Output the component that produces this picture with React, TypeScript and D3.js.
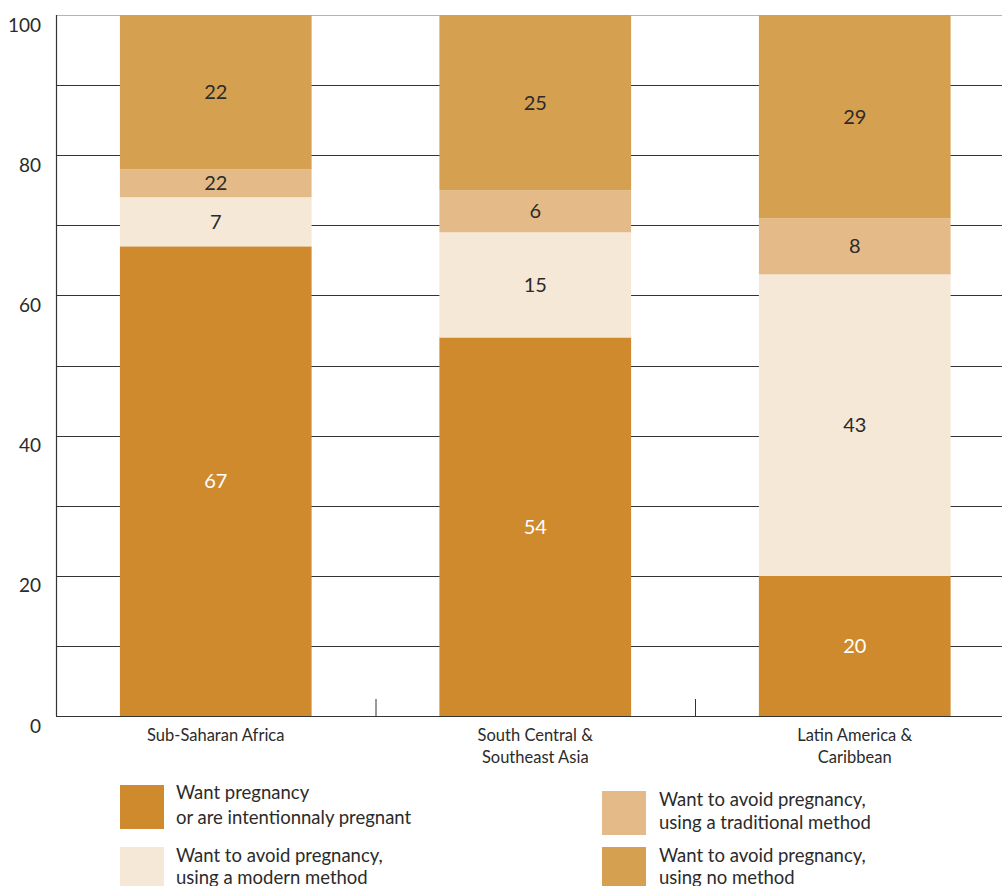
import React from "react";
import * as d3 from "d3";

const categories = [
  ["Sub-Saharan Africa"],
  ["South Central &", "Southeast Asia"],
  ["Latin America &", "Caribbean"],
];
const seriesNames = ["want", "modern", "traditional", "none"];
const wantPregnancy = [67, 54, 20];
const modernMethod = [7, 15, 43];
const traditionalMethod = [4, 6, 8];
const noMethod = [22, 25, 29];
const shownLabels = [
  ["67", "7", "22", "22"],
  ["54", "15", "6", "25"],
  ["20", "43", "8", "29"],
];
const yTicks = [0, 20, 40, 60, 80, 100];
const gridTicks = [10, 20, 30, 40, 50, 60, 70, 80, 90, 100];
const legendItems = [
  { key: "want", lines: ["Want pregnancy", "or are intentionnaly pregnant"] },
  { key: "modern", lines: ["Want to avoid pregnancy,", "using a modern method"] },
  { key: "traditional", lines: ["Want to avoid pregnancy,", "using a traditional method"] },
  { key: "none", lines: ["Want to avoid pregnancy,", "using no method"] },
];

const colors: Record<string, string> = {
  want: "#CF8A2E",
  modern: "#F5E8D7",
  traditional: "#E4BB88",
  none: "#D5A050",
};

const W = 1002;
const H = 886;
const left = 56;
const top = 15;
const bottom = 716;
const bandW = 319.5;
const FONT = "Lato, 'Open Sans', sans-serif";
const TXT = "#2b2b2b";

export default function App() {
  const y = d3.scaleLinear().domain([0, 100]).range([bottom, top]);
  const x = d3
    .scaleBand<number>()
    .domain([0, 1, 2])
    .range([left, left + 3 * bandW])
    .paddingInner(0.4)
    .paddingOuter(0.2);

  const rows = categories.map((_, i) => ({
    want: wantPregnancy[i],
    modern: modernMethod[i],
    traditional: traditionalMethod[i],
    none: noMethod[i],
  }));
  const stacked = d3.stack<any>().keys(seriesNames)(rows);

  const legendPos = [
    { sx: 120, sy: 785, tx: 176, ty: [793, 818] },
    { sx: 120, sy: 847, tx: 176, ty: [856, 878] },
    { sx: 602, sy: 791, tx: 659, ty: [800, 823] },
    { sx: 602, sy: 847, tx: 659, ty: [856, 878] },
  ];

  return (
    <svg
      width={W}
      height={H}
      style={{ position: "absolute", left: 0, top: 0, background: "#fff" }}
      fontFamily={FONT}
    >
      {gridTicks.map((t) => (
        <line
          key={t}
          x1={left}
          x2={W}
          y1={Math.round(y(t)) + 0.5}
          y2={Math.round(y(t)) + 0.5}
          stroke={t === 100 ? "#b5b5b5" : "#333"}
          strokeWidth={1}
        />
      ))}
      {stacked.map((layer) =>
        layer.map((d, i) => (
          <rect
            key={layer.key + i}
            x={x(i)}
            width={x.bandwidth()}
            y={y(d[1])}
            height={y(d[0]) - y(d[1])}
            fill={colors[layer.key]}
          />
        ))
      )}
      {stacked.map((layer, li) =>
        layer.map((d, i) => (
          <text
            key={"l" + layer.key + i}
            x={(x(i) as number) + x.bandwidth() / 2}
            y={(y(d[0]) + y(d[1])) / 2}
            dy="0.35em"
            textAnchor="middle"
            fontSize={20}
            fill={layer.key === "want" ? "#fff" : TXT}
          >
            {shownLabels[i][li]}
          </text>
        ))
      )}
      <line x1={left + 0.5} x2={left + 0.5} y1={top} y2={bottom} stroke="#333" strokeWidth={1.2} />
      <line x1={left} x2={W} y1={bottom + 0.5} y2={bottom + 0.5} stroke="#333" strokeWidth={1.2} />
      {[0, 1, 2].map((i) => (
        <line
          key={"tk" + i}
          x1={left + i * bandW + 0.5}
          x2={left + i * bandW + 0.5}
          y1={bottom - 17}
          y2={bottom}
          stroke="#333"
          strokeWidth={1}
        />
      ))}
      {yTicks.map((t) => (
        <text
          key={"yt" + t}
          x={41}
          y={y(t) + 10}
          dy="0.35em"
          textAnchor="end"
          fontSize={19}
          fill={TXT}
        >
          {t}
        </text>
      ))}
      {categories.map((lines, i) =>
        lines.map((ln, k) => (
          <text
            key={"c" + i + k}
            x={(x(i) as number) + x.bandwidth() / 2}
            y={735 + k * 22}
            dy="0.35em"
            textAnchor="middle"
            fontSize={16.5}
            fill={TXT}
          >
            {ln}
          </text>
        ))
      )}
      {legendItems.map((it, i) => {
        const p = legendPos[i];
        return (
          <g key={it.key}>
            <rect x={p.sx} y={p.sy} width={44} height={44} fill={colors[it.key]} />
            {it.lines.map((ln, k) => (
              <text key={k} x={p.tx} y={p.ty[k]} dy="0.35em" fontSize={18.5} fill={TXT}>
                {ln}
              </text>
            ))}
          </g>
        );
      })}
    </svg>
  );
}
